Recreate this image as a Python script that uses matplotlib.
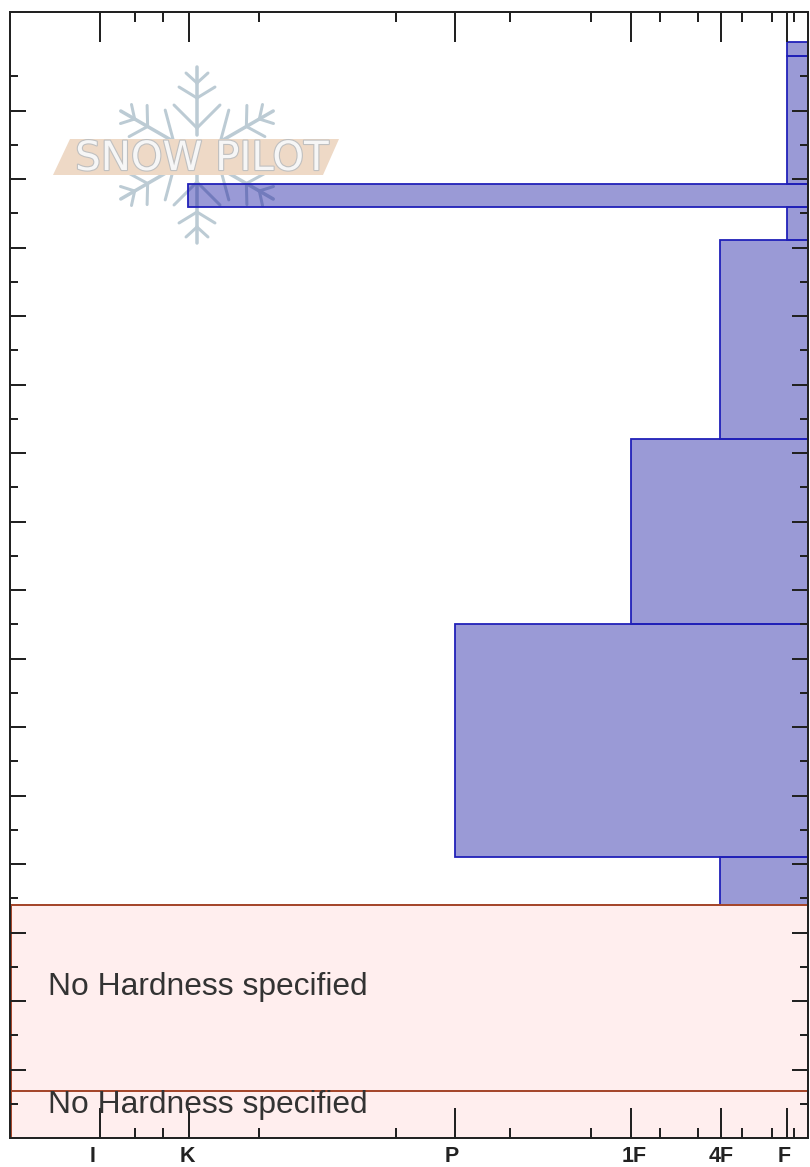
import numpy as np
from matplotlib import pyplot as plt
from matplotlib import patheffects as pe
from matplotlib.patches import Polygon

# layers: height above ground (cm) and hardness position on the axis
layer_top = [160, 158, 139.2, 135.9, 131.1, 102, 75, 41]
layer_bottom = [158, 139.2, 135.9, 131.1, 102, 75, 41, 34]
layer_hardness = [97.37, 97.37, 22.3, 97.37, 88.95, 77.82, 55.76, 88.95]

# layers with no hardness
empty_top = [34, 6.9]
empty_bottom = [6.9, 0]
empty_text_y = [22.1, 4.8]
empty_label = 'No Hardness specified'

hardness_major = [11.28, 22.37, 55.76, 77.82, 89.04, 97.37]
hardness_minor = [0, 15.66, 19.17, 31.2, 48.37, 62.66, 72.8, 81.45, 86.2, 91.73, 95.49, 98.25]
hardness_labels = ['I', 'K', 'P', '1F', '4F', 'F']
hardness_label_pos = [10.4, 22.2, 55.4, 78.2, 89.1, 97.0]

depth_major = list(range(10, 160, 10))
depth_minor = list(range(5, 160, 10))

W, H = 810, 1167
fig = plt.figure(figsize=(W / 100, H / 100), dpi=100)
px = 0.72  # points per pixel


def draw_arm(lg, cx, cy, angle):
    a = np.radians(angle)
    d = np.array([np.cos(a), -np.sin(a)])
    n = np.array([-d[1], d[0]])
    c = np.array([cx, cy])
    col = '#bccbd4'
    p0, p1 = c + d * 20, c + d * 88
    lg.plot([p0[0], p1[0]], [p0[1], p1[1]], color=col, lw=3.5 * px, solid_capstyle='round')
    for r, rl, s in [(27, 50, 23), (57, 68, 18), (72, 82, 11)]:
        for sign in (-1, 1):
            q0 = c + d * r
            q1 = c + d * rl + n * s * sign
            lg.plot([q0[0], q1[0]], [q0[1], q1[1]], color=col, lw=3 * px, solid_capstyle='round')


# logo sits behind the plot, in pixel coords
lg = fig.add_axes([0, 0, 1, 1], zorder=0)
lg.set_xlim(0, W)
lg.set_ylim(H, 0)
lg.axis('off')
for angle in (30, 90, 150, 210, 270, 330):
    draw_arm(lg, 197, 155, angle)
lg.add_patch(Polygon([(53, 175), (70, 139), (339, 139), (323, 175)], closed=True,
                     facecolor='#eed9c6', edgecolor='none', zorder=3))
lg.text(202, 159, 'SNOW PILOT', color='#f6f6f6', fontsize=29, ha='center', va='center',
        family='DejaVu Sans', zorder=4,
        path_effects=[pe.withStroke(linewidth=1.6, foreground='#c0c0c0')])

ax = fig.add_axes([10 / W, 1 - 1138 / H, 798 / W, 1126 / H], zorder=1)
ax.patch.set_alpha(0)
ax.set_xlim(0, 100)
ax.set_ylim(0, 1126 / 6.85)

for t, b, h in zip(layer_top, layer_bottom, layer_hardness):
    ax.barh(b, 100 - h, left=h, height=t - b, align='edge',
            facecolor=(0.01, 0.01, 0.6, 0.4), edgecolor='#2020b8', linewidth=1.8 * px, zorder=2)

for t, b in zip(empty_top, empty_bottom):
    ax.barh(b, 100 - 0.15, left=0.15, height=t - b, align='edge',
            facecolor='#ffeeee', edgecolor='#a5472c', linewidth=2 * px, zorder=2)
for y in empty_text_y:
    ax.text(4.8, y, empty_label, fontsize=22.9, family='Liberation Sans', color='#333333',
            va='center', ha='left', zorder=4)

ax.set_xticks(hardness_major)
ax.set_xticks(hardness_minor, minor=True)
ax.set_yticks(depth_major)
ax.set_yticks(depth_minor, minor=True)
ax.tick_params(axis='x', which='major', direction='in', top=True, bottom=True, length=30 * px,
               width=2 * px, color='#222222', labelbottom=False)
ax.tick_params(axis='x', which='minor', direction='in', top=True, bottom=True, length=10 * px,
               width=2 * px, color='#222222')
ax.tick_params(axis='y', which='major', direction='in', left=True, right=True, length=16 * px,
               width=2 * px, color='#222222', labelleft=False)
ax.tick_params(axis='y', which='minor', direction='in', left=True, right=True, length=8 * px,
               width=2 * px, color='#222222')
ax.set_axisbelow(False)
for s in ax.spines.values():
    s.set_linewidth(2 * px)
    s.set_color('#222222')
    s.set_zorder(5)

for x, lab in zip(hardness_label_pos, hardness_labels):
    ax.text(x, -19 / 1126, lab, transform=ax.get_xaxis_transform(), ha='center', va='center',
            fontsize=15.5, fontweight='bold', family=['Liberation Sans Narrow', 'Liberation Sans'],
            color='#222222')

fig.savefig('out.png', dpi=100)
